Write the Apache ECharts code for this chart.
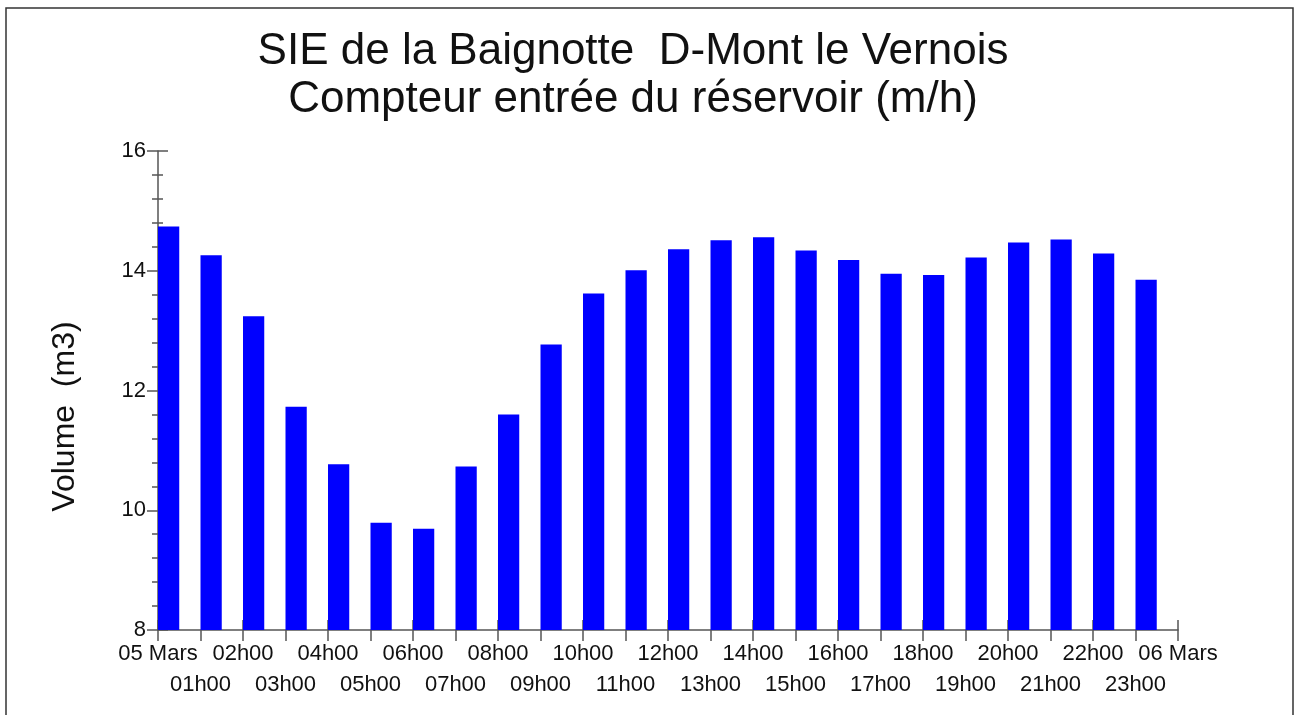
<!DOCTYPE html>
<html>
<head>
<meta charset="utf-8">
<title>Compteur entrée du réservoir</title>
<script src="https://cdn.jsdelivr.net/npm/echarts@6/dist/echarts.min.js"></script>
<style>
html, body {
  margin: 0;
  padding: 0;
  background: #ffffff;
}
#volumeChart {
  width: 1294px;
  height: 715px;
}
</style>
</head>
<body>
<div id="volumeChart"></div>
<script>
// heures de la journée (une barre par heure)
var hours = ["00h00", "01h00", "02h00", "03h00", "04h00", "05h00", "06h00", "07h00",
  "08h00", "09h00", "10h00", "11h00", "12h00", "13h00", "14h00", "15h00",
  "16h00", "17h00", "18h00", "19h00", "20h00", "21h00", "22h00", "23h00"];
// volume (m3) par heure
var volumes = [14.74, 14.26, 13.24, 11.73, 10.77, 9.79, 9.69, 10.73,
  11.60, 12.77, 13.62, 14.01, 14.36, 14.51, 14.56, 14.34,
  14.18, 13.95, 13.93, 14.22, 14.47, 14.52, 14.29, 13.85];
// libellés de l'axe des x (aux graduations)
var tickLabels = ["05 Mars", "01h00", "02h00", "03h00", "04h00", "05h00", "06h00",
  "07h00", "08h00", "09h00", "10h00", "11h00", "12h00", "13h00", "14h00", "15h00",
  "16h00", "17h00", "18h00", "19h00", "20h00", "21h00", "22h00", "23h00", "06 Mars"];
var yMin = 8;
var yMax = 16;
var yStep = 2;

var fontName = "'Liberation Sans', Arial, sans-serif";
var axisColor = "#555555";

var volumeChart = echarts.init(document.getElementById("volumeChart"));

var option = {
  animation: false,
  title: {
    text: "SIE de la Baignotte  D-Mont le Vernois\nCompteur entrée du réservoir (m/h)",
    left: 633,
    top: 28,
    padding: 0,
    textAlign: "center",
    textStyle: {
      fontFamily: fontName,
      fontWeight: "normal",
      fontSize: 44,
      lineHeight: 48,
      color: "#111111"
    }
  },
  graphic: [
    {
      type: "rect",
      z: -10,
      shape: { x: 6, y: 8, width: 1287, height: 760 },
      style: { fill: "none", stroke: "#333333", lineWidth: 1.5 }
    }
  ],
  grid: {
    left: 158,
    right: 116,
    top: 151,
    bottom: 85
  },
  xAxis: [
    {
      // axe des barres, graduations vers le haut
      type: "category",
      data: hours,
      boundaryGap: true,
      axisLine: { show: true, lineStyle: { color: axisColor, width: 1.5 } },
      axisTick: { show: true, inside: true, length: 10, lineStyle: { color: axisColor, width: 1.5 } },
      axisLabel: { show: false },
      splitLine: { show: false }
    },
    {
      // axe des heures (graduations), vers le bas + libellés sur 2 rangées
      type: "category",
      data: tickLabels,
      boundaryGap: false,
      position: "bottom",
      axisLine: { show: false },
      axisTick: { show: true, inside: false, length: 11, interval: 0, lineStyle: { color: axisColor, width: 1.5 } },
      axisLabel: {
        show: true,
        interval: 0,
        margin: 8,
        fontFamily: fontName,
        fontSize: 22,
        lineHeight: 31,
        color: "#111111",
        formatter: function (value, index) {
          return index % 2 === 1 ? "\n" + value : value;
        }
      },
      splitLine: { show: false }
    }
  ],
  yAxis: [
    {
      type: "value",
      min: yMin,
      max: yMax,
      interval: yStep,
      name: "Volume  (m3)",
      nameLocation: "middle",
      nameGap: 77,
      nameRotate: 90,
      nameTextStyle: {
        fontFamily: fontName,
        fontSize: 32,
        color: "#111111",
        padding: [0, 52, 0, 0]
      },
      axisLine: { show: true, lineStyle: { color: axisColor, width: 1.5 } },
      axisTick: { show: true, inside: false, length: 11, lineStyle: { color: axisColor, width: 1.5 } },
      minorTick: { show: true, splitNumber: 5, length: 6, lineStyle: { color: axisColor, width: 1.5 } },
      axisLabel: {
        margin: 12,
        fontFamily: fontName,
        fontSize: 22,
        color: "#111111"
      },
      splitLine: { show: false },
      minorSplitLine: { show: false }
    },
    {
      // même échelle, graduations vers l'intérieur
      type: "value",
      position: "left",
      min: yMin,
      max: yMax,
      interval: yStep,
      axisLine: { show: false },
      axisTick: { show: true, inside: true, length: 10, lineStyle: { color: axisColor, width: 1.5 } },
      minorTick: { show: true, splitNumber: 5, length: 5, lineStyle: { color: axisColor, width: 1.5 } },
      axisLabel: { show: false },
      splitLine: { show: false },
      minorSplitLine: { show: false }
    }
  ],
  series: [
    {
      name: "Volume",
      type: "bar",
      xAxisIndex: 0,
      yAxisIndex: 0,
      data: volumes,
      barGap: "0%",
      barCategoryGap: "0%",
      itemStyle: { color: "#0000ff" },
      z: 1
    },
    {
      // série vide : occupe la 2e moitié de chaque heure
      name: "vide",
      type: "bar",
      xAxisIndex: 0,
      yAxisIndex: 0,
      data: [],
      barGap: "0%",
      barCategoryGap: "0%"
    }
  ]
};

volumeChart.setOption(option);
</script>
</body>
</html>
